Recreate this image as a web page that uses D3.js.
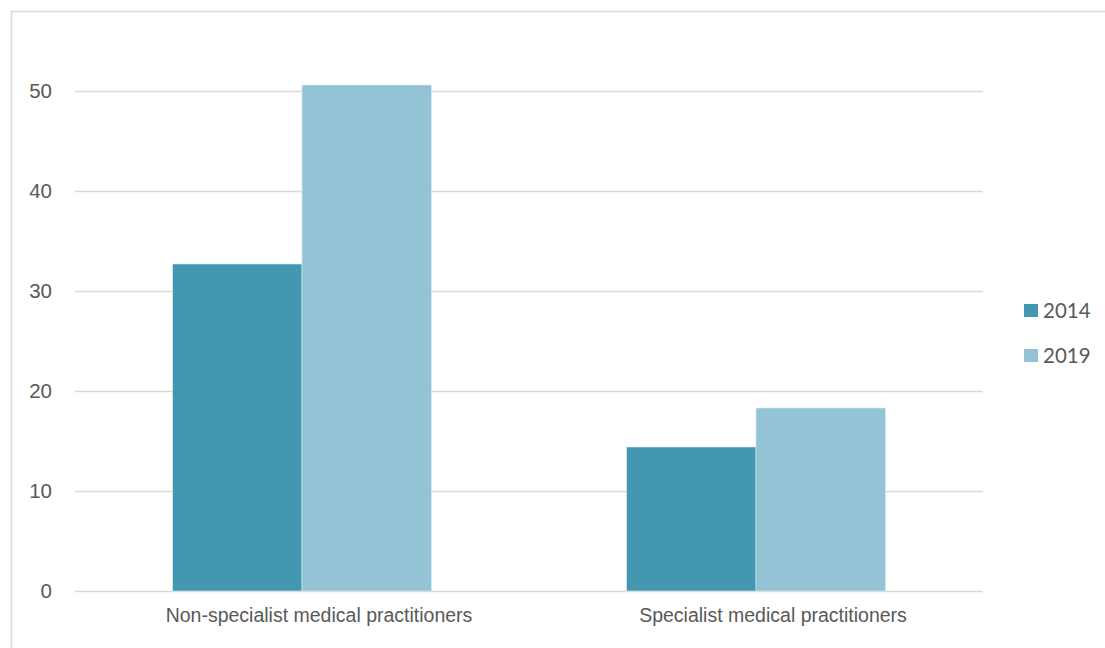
<!DOCTYPE html>
<html>
<head>
<meta charset="utf-8">
<script src="https://cdn.jsdelivr.net/npm/d3@7"></script>
<style>
  body { margin: 0; background: #fff; }
  svg { display: block; font-family: Lato, "Open Sans", sans-serif; }
</style>
</head>
<body>
<div id="chart-container"></div>
<script>
// Chart data
const categories = ['Non-specialist medical practitioners', 'Specialist medical practitioners']
const seriesNames = ['2014', '2019']
const values2014 = [32.7, 14.4]
const values2019 = [50.6, 18.3]
const yTicks = [0, 10, 20, 30, 40, 50]

const colors = { '2014': '#4397b0', '2019': '#93c3d4' }
const textColor = '#595959'
const gridColor = '#d9d9d9'

const width = 1105
const height = 648
const margin = { top: 91, right: 122, bottom: 57, left: 75 }

const rows = categories.map((c, i) => ({ category: c, '2014': values2014[i], '2019': values2019[i] }))

const svg = d3.select('#chart-container')
    .append('svg')
    .attr('width', width)
    .attr('height', height)

// Outer frame (cut off at right and bottom like the original)
svg.append('rect')
    .attr('x', 11.5)
    .attr('y', 11.5)
    .attr('width', width)
    .attr('height', height)
    .attr('fill', 'none')
    .attr('stroke', gridColor)
    .attr('stroke-width', 1.5)

const x0 = d3.scaleBand()
    .domain(categories)
    .range([margin.left, width - margin.right])
    .paddingInner(0.43)
    .paddingOuter(0.215)

const x1 = d3.scaleBand()
    .domain(seriesNames)
    .range([0, x0.bandwidth()])

const y = d3.scaleLinear()
    .domain([0, 50])
    .range([height - margin.bottom, margin.top])

// Gridlines + y labels
const yAxis = d3.axisLeft(y)
    .tickValues(yTicks)
    .tickSize(-(width - margin.right - margin.left))
    .tickPadding(23)
svg.append('g')
    .attr('transform', 'translate(' + margin.left + ',0)')
    .call(yAxis)
    .call(g => g.select('.domain').remove())
    .call(g => g.selectAll('line').attr('stroke', gridColor).attr('stroke-width', 1.5))
    .call(g => g.selectAll('text').attr('fill', textColor).attr('font-size', 20.5))

// Bars
const groups = svg.append('g')
    .selectAll('g')
    .data(rows)
    .enter()
    .append('g')
    .attr('transform', d => 'translate(' + x0(d.category) + ',0)')

groups.selectAll('rect')
    .data(d => seriesNames.map(s => ({ key: s, value: d[s] })))
    .enter()
    .append('rect')
    .attr('x', d => x1(d.key))
    .attr('y', d => y(d.value))
    .attr('width', x1.bandwidth())
    .attr('height', d => y(0) - y(d.value))
    .attr('fill', d => colors[d.key])
    .attr('stroke', '#d6ebf2')
    .attr('stroke-width', 0.6)

// x labels
const xAxis = d3.axisBottom(x0).tickSize(0).tickPadding(17)
svg.append('g')
    .attr('transform', 'translate(0,' + y(0) + ')')
    .call(xAxis)
    .call(g => g.select('.domain').remove())
    .call(g => g.selectAll('text').attr('fill', textColor).attr('font-size', 19.5).attr('dx', 17))

// Legend
const legend = svg.append('g')
    .attr('transform', 'translate(1024, 304)')
const legendItems = legend.selectAll('g')
    .data(seriesNames)
    .enter()
    .append('g')
    .attr('transform', (d, i) => 'translate(0,' + (i * 45) + ')')
legendItems.append('rect')
    .attr('width', 14)
    .attr('height', 13)
    .attr('fill', d => colors[d])
legendItems.append('text')
    .attr('x', 19)
    .attr('y', 13.5)
    .attr('fill', textColor)
    .attr('font-size', 20.5)
    .text(d => d)
</script>
</body>
</html>
